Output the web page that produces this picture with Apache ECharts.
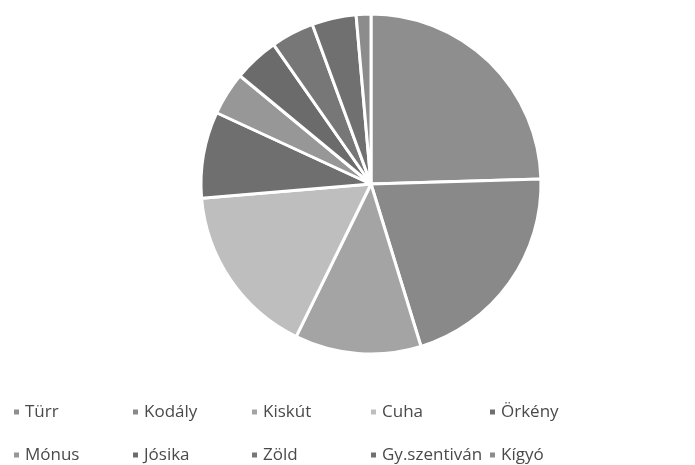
<!DOCTYPE html>
<html>
<head>
<meta charset="utf-8">
<script src="https://cdn.jsdelivr.net/npm/echarts@6/dist/echarts.min.js"></script>
<style>
  html, body { margin: 0; padding: 0; background: #fff; }
  #chart { width: 695px; height: 465px; }
</style>
</head>
<body>
<div id="chart"></div>
<script>
// slice names (clockwise from 12 o'clock) and their shares
var names = ['Türr', 'Kodály', 'Kiskút', 'Cuha', 'Örkény', 'Mónus', 'Jósika', 'Zöld', 'Gy.szentiván', 'Kígyó'];
var values = [24.5, 20.7, 12.0, 16.4, 8.2, 4.1, 4.3, 4.1, 4.2, 1.4];
var colorList = ['#8e8e8e', '#898989', '#a4a4a4', '#bebebe', '#6f6f6f', '#979797', '#6b6b6b', '#777777', '#707070', '#8c8c8c'];

var seriesData = [];
for (var i = 0; i < names.length; i++) {
  seriesData.push({ name: names[i], value: values[i] });
}

function legendRow(items, top) {
  return {
    data: items,
    left: 7,
    top: top,
    orient: 'horizontal',
    itemWidth: 7,
    itemHeight: 7,
    itemGap: 4,
    icon: 'rect',
    selectedMode: false,
    textStyle: {
      color: '#4a4a4a',
      fontSize: 17,
      fontFamily: 'Open Sans',
      width: 102,
      lineHeight: 20
    }
  };
}

var option = {
  color: colorList,
  animation: false,
  legend: [
    legendRow(names.slice(0, 5), 397),
    legendRow(names.slice(5), 440)
  ],
  series: [{
    type: 'pie',
    center: [371, 184],
    radius: 170,
    startAngle: 90,
    clockwise: true,
    label: { show: false },
    labelLine: { show: false },
    itemStyle: {
      borderColor: '#ffffff',
      borderWidth: 3
    },
    data: seriesData
  }]
};

var ele = echarts.init(document.getElementById('chart'));
ele.setOption(option);
</script>
</body>
</html>
